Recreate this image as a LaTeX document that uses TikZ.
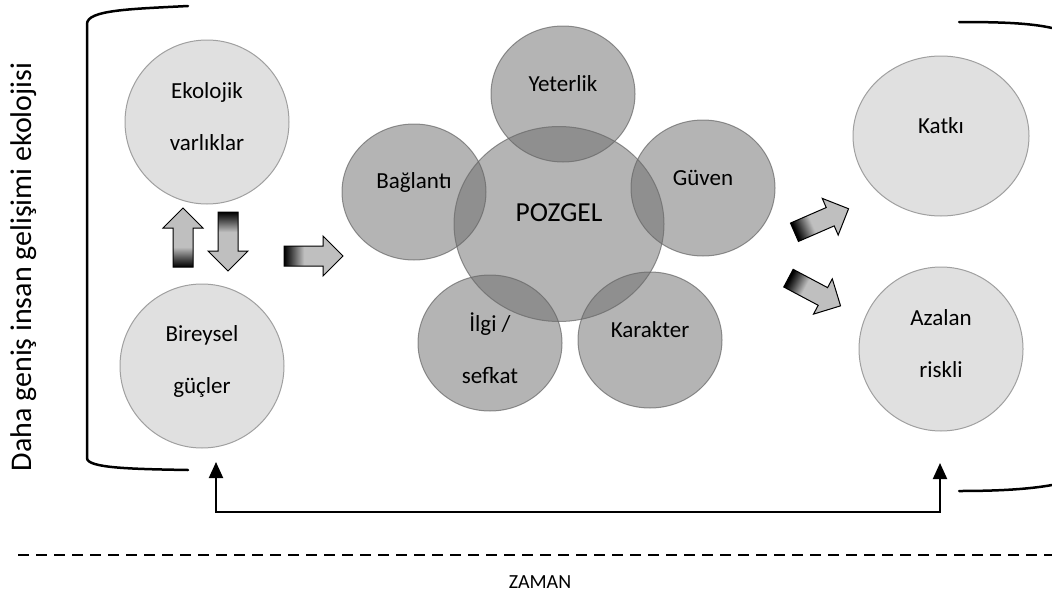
\documentclass[tikz,border=0pt]{standalone}
\usepackage{fontspec}
\setmainfont{Carlito}
\usetikzlibrary{arrows.meta, positioning, calc, shapes.geometric}
\definecolor{BallLight}{HTML}{E0E0E0}
\definecolor{BallEdge}{HTML}{A0A0A0}
\definecolor{ClusterGray}{HTML}{6A6A6A}
\definecolor{ArrowGray}{HTML}{BFBFBF}
\pgfdeclarehorizontalshading{tailshade}{100bp}{color(0bp)=(black); color(25bp)=(black); color(31bp)=(black!75); color(42bp)=(ArrowGray); color(100bp)=(ArrowGray)}
\tikzset{
  lightball/.style={ellipse, draw=BallEdge, line width=1pt, fill=BallLight, inner sep=0pt},
  pozball/.style={ellipse, draw=black!60, draw opacity=0.7, line width=1pt, fill=ClusterGray, fill opacity=0.5, inner sep=0pt, minimum width=144, minimum height=136},
  lbl/.style={font=\fontsize{23}{52}\selectfont, align=center, inner sep=0pt},
  blockarrow/.pic={
    \shade[draw=black, line width=1pt, line join=miter, shading=tailshade, shading angle=#1]
      (-29.5,-10) -- (9.5,-10) -- (9.5,-20) -- (29.5,0) -- (9.5,20) -- (9.5,10) -- (-29.5,10) -- cycle;
  },
  bracket/.style={line width=2.5pt, line cap=round},
  fback/.style={line width=2pt, {Triangle[width=14pt,length=16pt]}-{Triangle[width=14pt,length=16pt]}}
}

\begin{document}
\begin{tikzpicture}[x=1pt, y=-1pt]
    \useasboundingbox (0,0) rectangle (1052,597);
    % side label and brackets
    \node[font=\fontsize{30}{36}\selectfont, rotate=90] (ekoloji) at (24,267) {Daha geniş insan gelişimi ekolojisi};
    \draw[bracket] (188,6) .. controls (130,9) and (87,10) .. (87,24) -- (87,458) .. controls (87,468) and (130,469) .. (188,470);
    \draw[bracket] (959,22) .. controls (1000,22) and (1030,23) .. (1052,28);
    \draw[bracket] (959,491) .. controls (1000,491) and (1030,489) .. (1052,485);

    % left side
    \node[lightball, minimum size=164] (ekolojik) at (207,122) {};
    \node[lightball, minimum size=164] (bireysel) at (202,366) {};
    \node[lbl] (ekolojik-t) at ($(ekolojik)+(0,-5)$) {Ekolojik\\varlıklar};
    \node[lbl] (bireysel-t) at ($(bireysel)+(0,-5)$) {Bireysel\\güçler};
    \pic[rotate=90] (up) at (183,237.5) {blockarrow=90};
    \pic[rotate=-90] (down) at (228,241.5) {blockarrow=-90};
    \pic (toright) at (313.5,256) {blockarrow=0};

    % POZGEL cluster
    \node[pozball, minimum width=210, minimum height=195] (pozgel) at (559,224) {};
    \node[pozball] (yeterlik) at (563,94) {};
    \node[pozball] (baglanti) at (414,192) {};
    \node[pozball] (guven) at (703,188) {};
    \node[pozball] (ilgi) at (490,343) {};
    \node[pozball] (karakter) at (650,340) {};
    \node[lbl, font=\fontsize{27.5}{33}\selectfont] (pozgel-t) at ($(pozgel)+(0,-11)$) {POZGEL};
    \node[lbl] (yeterlik-t) at ($(yeterlik)+(0,-10)$) {Yeterlik};
    \node[lbl] (baglanti-t) at ($(baglanti)+(0,-10)$) {Bağlantı};
    \node[lbl] (guven-t) at ($(guven)+(0,-10)$) {Güven};
    \node[lbl] (ilgi-t) at ($(ilgi)+(0,5)$) {İlgi /\\sefkat};
    \node[lbl] (karakter-t) at ($(karakter)+(0,-10)$) {Karakter};

    % right side
    \pic[rotate=23.5] (tokatki) at (821.5,220.5) {blockarrow=23.5};
    \pic[rotate=-28] (toazalan) at (814.5,292) {blockarrow=-28};
    \node[lightball, minimum width=176, minimum height=160] (katki) at (941,136) {};
    \node[lightball, minimum size=164] (azalan) at (941,349) {};
    \node[lbl] (katki-t) at ($(katki)+(0,-10)$) {Katkı};
    \node[lbl] (azalan-t) at ($(azalan)+(0,-5)$) {Azalan\\riskli};

    % feedback and time line
    \coordinate (fbL) at (216,462);
    \coordinate (fbR) at (940,463);
    \draw[fback] (fbL) -- ++(0,50) -| (fbR);
    \draw[line width=2pt, dash pattern=on 11pt off 7pt] (18,555) -- (1052,555);
    \node[font=\fontsize{20}{24}\selectfont] (zaman) at (540,582) {ZAMAN};
\end{tikzpicture}
\end{document}
